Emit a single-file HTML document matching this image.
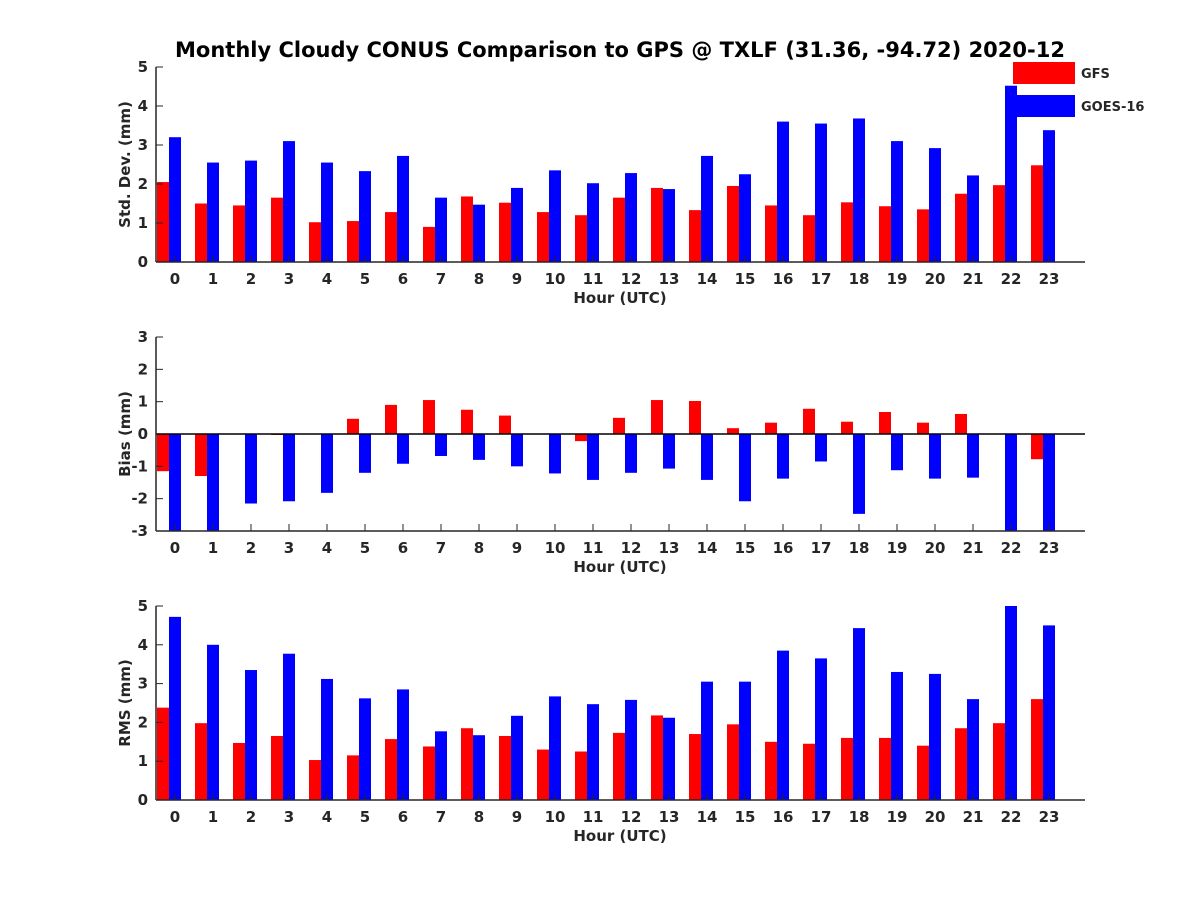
<!DOCTYPE html>
<html><head><meta charset="utf-8"><style>
body{margin:0;background:#fff;}
svg text{font-family:"DejaVu Sans","Liberation Sans",sans-serif;font-weight:bold;fill:#262626;}
</style></head><body>
<svg id="chart" width="1200" height="900" xmlns="http://www.w3.org/2000/svg">
<text x="620" y="57" font-size="21" text-anchor="middle" style="fill:#000">Monthly Cloudy CONUS Comparison to GPS @ TXLF (31.36, -94.72) 2020-12</text>
</svg>
<script>
const hours=[0,1,2,3,4,5,6,7,8,9,10,11,12,13,14,15,16,17,18,19,20,21,22,23];
const stdGFS=[2.05,1.5,1.45,1.65,1.02,1.05,1.28,0.9,1.68,1.52,1.28,1.2,1.65,1.9,1.33,1.95,1.45,1.2,1.53,1.43,1.35,1.75,1.97,2.48];
const stdGOES=[3.2,2.55,2.6,3.1,2.55,2.33,2.72,1.65,1.47,1.9,2.35,2.02,2.28,1.87,2.72,2.25,3.6,3.55,3.68,3.1,2.92,2.22,4.52,3.38];
const biasGFS=[-1.15,-1.3,0,-0.03,0,0.47,0.9,1.05,0.75,0.57,0,-0.22,0.5,1.05,1.02,0.18,0.35,0.78,0.38,0.68,0.35,0.62,0,-0.78];
const biasGOES=[-3.5,-3.5,-2.15,-2.08,-1.82,-1.2,-0.92,-0.68,-0.8,-1.0,-1.22,-1.42,-1.2,-1.07,-1.42,-2.08,-1.38,-0.85,-2.47,-1.12,-1.38,-1.35,-3.5,-3.5];
const rmsGFS=[2.38,1.98,1.47,1.65,1.03,1.15,1.57,1.38,1.85,1.65,1.3,1.25,1.73,2.18,1.7,1.95,1.5,1.45,1.6,1.6,1.4,1.85,1.98,2.6];
const rmsGOES=[4.72,4.0,3.35,3.77,3.12,2.62,2.85,1.77,1.67,2.17,2.67,2.47,2.58,2.12,3.05,3.05,3.85,3.65,4.43,3.3,3.25,2.6,5.0,4.5];
const stdTicks=[0,1,2,3,4,5], biasTicks=[-3,-2,-1,0,1,2,3], rmsTicks=[0,1,2,3,4,5];
const NS='http://www.w3.org/2000/svg', svg=document.getElementById('chart');
function mk(t,a,p){const e=document.createElementNS(NS,t);for(const k in a)e.setAttribute(k,a[k]);(p||svg).appendChild(e);return e;}
const X0=156,X1=1085;
const xs=h=>175+h*38;
function panel(name,top,bot,ymin,ymax,ticks,red,blue,ylabel){
  const g=mk('g',{});
  
  
  const ys=v=>bot-(Math.max(ymin,Math.min(ymax,v))-ymin)/(ymax-ymin)*(bot-top);
  const base=ys(Math.max(ymin,0));
  hours.forEach((h,i)=>{
    const c=xs(h);
    [[red[i],c-18,'#ff0000','gfs'],[blue[i],c-6,'#0000ff','goes']].forEach(([v,x,col,s])=>{
      const y=ys(v);const r=mk('rect',{x:x,y:Math.min(y,base),width:12,height:Math.abs(base-y),fill:col},g);
      
      
    });
    const t=mk('text',{x:c,y:bot+22,'font-size':15,'text-anchor':'middle'},g);t.textContent=h;
    
    
    mk('line',{x1:c,x2:c,y1:bot,y2:bot-7,stroke:'#262626'},g);
  });
  ticks.forEach(v=>{const y=ys(v);
    const t=mk('text',{x:X0-8,y:y+5,'font-size':15,'text-anchor':'end'},g);t.textContent=v;
    
    
    mk('line',{x1:X0,x2:X0+7,y1:y,y2:y,stroke:'#262626'},g);});
  if(ymin<0) mk('line',{x1:X0,x2:X1,y1:ys(0),y2:ys(0),stroke:'#000','stroke-width':1.5},g);
  mk('line',{x1:X0,x2:X0,y1:top,y2:bot,stroke:'#262626','stroke-width':1.5},g);
  mk('line',{x1:X0,x2:X1,y1:bot,y2:bot,stroke:'#262626','stroke-width':1.5},g);
  const xl=mk('text',{x:620,y:bot+41,'font-size':15,'text-anchor':'middle'},g);xl.textContent='Hour (UTC)';
  
  
  const yl=mk('text',{x:0,y:0,'font-size':15,'text-anchor':'middle',transform:`translate(130,${(top+bot)/2}) rotate(-90)`},g);yl.textContent=ylabel;
  
  
}
panel('std',67,262,0,5,stdTicks,stdGFS,stdGOES,'Std. Dev. (mm)');
panel('bias',337,531,-3,3,biasTicks,biasGFS,biasGOES,'Bias (mm)');
panel('rms',606,800,0,5,rmsTicks,rmsGFS,rmsGOES,'RMS (mm)');
const lg=mk('g',{});


[['GFS','#ff0000',62],['GOES-16','#0000ff',95]].forEach(([n,c,y])=>{
  mk('rect',{x:1013,y:y,width:62,height:22,fill:c},lg);
  const t=mk('text',{x:1081,y:y+16,'font-size':13,fill:'#000'},lg);t.textContent=n;
  
  
});
</script>
</body></html>
